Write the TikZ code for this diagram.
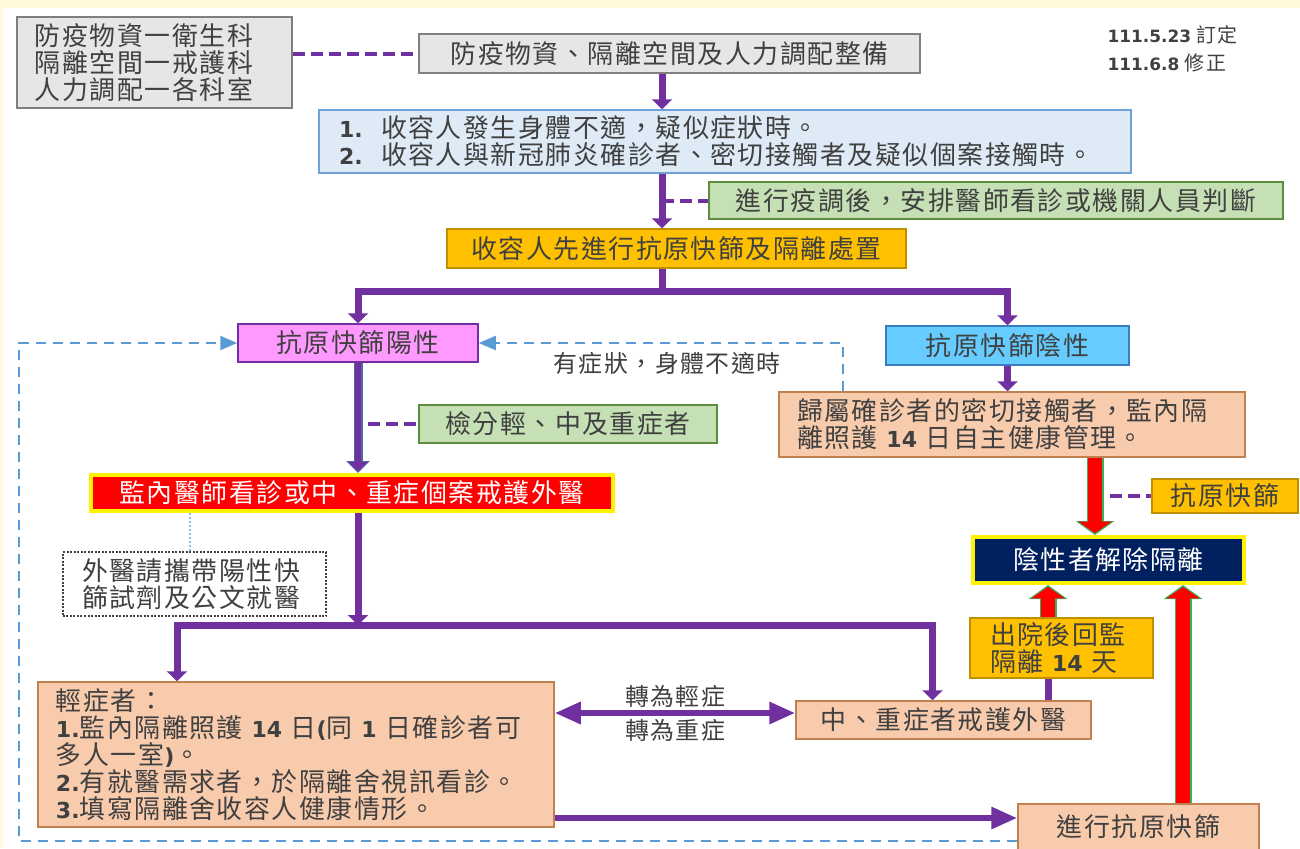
\documentclass[tikz,border=0pt]{standalone}
\usepackage{fontspec}
\setmainfont{Noto Sans CJK TC}[LetterSpace=6]
\newfontfamily\numf{DejaVu Sans}[Scale=0.85]
\usepackage{tikz}
\usetikzlibrary{arrows.meta}
\definecolor{bgyel}{HTML}{FFF9DA}
\definecolor{txtgray}{HTML}{404040}
\definecolor{boxgray}{HTML}{E7E6E6}
\definecolor{graybd}{HTML}{7F7F7F}
\definecolor{lblue}{HTML}{DEEBF7}
\definecolor{blbd}{HTML}{6FA0D8}
\definecolor{lgreen}{HTML}{C5E0B4}
\definecolor{gbd}{HTML}{5E8C3E}
\definecolor{amber}{HTML}{FFC000}
\definecolor{ambd}{HTML}{BF9000}
\definecolor{pinkf}{HTML}{FF99FF}
\definecolor{cyanf}{HTML}{66CCFF}
\definecolor{cybd}{HTML}{3A7CC0}
\definecolor{peach}{HTML}{F8CBAD}
\definecolor{pbd}{HTML}{C0804F}
\definecolor{navy}{HTML}{002060}
\definecolor{pur}{HTML}{7030A0}
\definecolor{dashblue}{HTML}{5B9BD5}
\definecolor{slateb}{HTML}{4C6AA8}
\definecolor{rggreen}{HTML}{3FAF5F}
\newcommand{\boxfont}{\fontsize{26}{27}\selectfont}
\newcommand{\smallfont}{\fontsize{24}{27}\selectfont}
\newcommand{\datefont}{\fontsize{20}{22}\selectfont}
\newcommand{\bnum}[1]{{\numf\bfseries #1}}
\tikzset{
  box/.style={draw, inner sep=0pt, line width=1.5bp, text=txtgray, font=\boxfont},
  flow/.style={draw=pur, line width=7bp, -{Triangle[length=10bp,width=20bp]}},
  flowline/.style={draw=pur, line width=7bp},
  hflow/.style={draw=pur, line width=6bp, -{Triangle[length=26bp,width=21bp]}},
  dflow/.style={draw=pur, line width=6bp, {Triangle[length=26bp,width=21bp]}-{Triangle[length=26bp,width=21bp]}},
  dashp/.style={draw=pur, line width=4bp, dash pattern=on 12bp off 6bp},
  loopline/.style={draw=dashblue, line width=2bp, dash pattern=on 10bp off 7bp, -{Triangle[length=17bp,width=14bp]}},
  bflow/.style={draw=slateb, line width=9bp, -{Triangle[length=12bp,width=23bp]},
    postaction={draw=pur, line width=6bp, -{Triangle[length=9.5bp,width=19bp]}, shorten >=1.5bp}},
  rgarrow/.style={draw=rggreen, line width=17bp, -{Triangle[length=14bp,width=38bp]},
    postaction={draw=red, line width=14bp, -{Triangle[length=11.5bp,width=33bp]}, shorten >=1.9bp}}
}
\begin{document}
\begin{tikzpicture}[x=1bp, y=-1bp]
  \useasboundingbox (0,0) rectangle (1300,848);
  \fill[bgyel] (0,0) rectangle (1300,848);
  \fill[white] (3,8) rectangle (1300,848);

  \coordinate (mx) at (662,0);
  \coordinate (sp) at (662,291);
  \coordinate (hl) at (177,625);
  \coordinate (hr) at (932.5,625);
  \coordinate (lc) at (19,841);
  \coordinate (rc) at (843,0);
  \coordinate (yd) at (0,713);
  \coordinate (ym) at (0,818);
  \coordinate (xa) at (1048,0);
  \coordinate (xb) at (1095,0);
  \coordinate (xc) at (1183,0);
  \coordinate (xd) at (1110,0);
  \coordinate (kx) at (190,0);
  \coordinate (tx) at (368,0);

  \node[box, fill=boxgray, draw=graybd, text width=239bp, inner xsep=18bp, align=left, minimum height=91bp] (staff) at (154.5,62.5) {防疫物資一衛生科\\隔離空間一戒護科\\人力調配一各科室};
  \node[box, fill=boxgray, draw=graybd, minimum width=501bp, minimum height=39bp] (prep) at (669.5,53.5) {防疫物資、隔離空間及人力調配整備};
  \node[anchor=west, font=\datefont, text=txtgray] (d1) at (1104,35) {\bnum{111.5.23} 訂定};
  \node[anchor=west, font=\datefont, text=txtgray] (d2) at (1104,63) {\bnum{111.6.8} 修正};
  \node[box, fill=lblue, draw=blbd, text width=772bp, inner xsep=20bp, align=left, minimum height=63bp] (cond) at (725,141.5) {\makebox[42bp][l]{\bnum{1.}}收容人發生身體不適，疑似症狀時。\\\makebox[42bp][l]{\bnum{2.}}收容人與新冠肺炎確診者、密切接觸者及疑似個案接觸時。};
  \node[box, fill=lgreen, draw=gbd, minimum width=574bp, minimum height=37bp] (judge) at (996,200.5) {進行疫調後，安排醫師看診或機關人員判斷};
  \node[box, fill=amber, draw=ambd, minimum width=459bp, minimum height=39bp] (screen) at (676.5,248.5) {收容人先進行抗原快篩及隔離處置};
  \node[box, fill=pinkf, draw=pur, minimum width=240bp, minimum height=38bp] (pos) at (358,343) {抗原快篩陽性};
  \node[box, fill=cyanf, draw=cybd, minimum width=243bp, minimum height=39bp] (neg) at (1007.5,345.5) {抗原快篩陰性};
  \node[font=\smallfont, text=txtgray] (sym) at (667,363) {有症狀，身體不適時};
  \node[box, fill=peach, draw=pbd, text width=430bp, inner xsep=18bp, align=left, minimum height=65bp] (close) at (1012,424.5) {歸屬確診者的密切接觸者，監內隔\\離照護 \bnum{14} 日自主健康管理。};
  \node[box, fill=lgreen, draw=gbd, minimum width=298bp, minimum height=38bp] (triage) at (568,424) {檢分輕、中及重症者};
  \node[box, fill=red, draw=yellow, line width=4bp, text=white, minimum width=522bp, minimum height=36bp] (doc) at (352,493) {監內醫師看診或中、重症個案戒護外醫};
  \node[box, fill=white, draw=darkgray, dash pattern=on 2bp off 1.5bp, text width=225bp, inner xsep=19bp, align=left, minimum height=64bp] (kit) at (194.5,584) {外醫請攜帶陽性快\\篩試劑及公文就醫};
  \node[box, fill=amber, draw=ambd, minimum width=146bp, minimum height=34bp] (rat) at (1225,496) {抗原快篩};
  \node[box, fill=navy, draw=yellow, line width=4bp, text=white, minimum width=271bp, minimum height=46bp] (rel) at (1108.5,560) {陰性者解除隔離};
  \node[box, fill=amber, draw=ambd, text width=143bp, inner xsep=20bp, align=left, minimum height=60bp] (back) at (1061.5,648) {出院後回監\\隔離 \bnum{14} 天};
  \node[box, fill=peach, draw=pbd, text width=480bp, inner xsep=18bp, align=left, minimum height=145bp] (mild) at (296,754.5) {輕症者：\\\bnum{1.}監內隔離照護 \bnum{14} 日\bnum{(}同 \bnum{1} 日確診者可\\多人一室\bnum{)}。\\\bnum{2.}有就醫需求者，於隔離舍視訊看診。\\\bnum{3.}填寫隔離舍收容人健康情形。};
  \node[box, fill=peach, draw=pbd, minimum width=295bp, minimum height=38bp] (sev) at (943.5,720) {中、重症者戒護外醫};
  \node[box, fill=peach, draw=pbd, minimum width=241bp, minimum height=46bp] (ant) at (1138.5,827) {進行抗原快篩};

  \draw[dashp] (prep.west -| staff.east) -- (prep.west);
  \draw[dashp] (judge.west -| mx) -- (judge.west);
  \draw[dashp] (tx |- triage.west) -- (triage.west);
  \draw[dashp] (xd |- rat.west) -- (rat.west);
  \draw[flow] (prep.south -| mx) -- (cond.north -| mx);
  \draw[flow] (cond.south -| mx) -- (screen.north -| mx);
  \draw[flowline] (screen.south -| mx) -- (sp);
  \draw[flow] (sp) -| (pos.north);
  \draw[flow] (sp) -| (neg.north);
  \draw[flow] (neg.south) -- (neg.south |- close.north);
  \draw[loopline] (rc |- close.north) |- (pos.east);
  \draw[loopline] (lc -| ant.west) -- (lc) |- (pos.west);
  \draw[bflow] (pos.south) -- (pos.south |- doc.north);
  \draw[draw=dashblue!70, line width=1.5bp, dash pattern=on 2bp off 2bp] (kx |- doc.south) -- (kx |- kit.north);
  \draw[flow] (pos.south |- doc.south) -- (pos.south |- hl);
  \draw[flow] (hr) -- (hl) -- (hl |- mild.north);
  \draw[flow] (hl) -- (hr) -- (hr |- sev.north);
  \draw[dflow] (mild.east |- yd) -- node[above, font=\smallfont, text=txtgray, inner sep=3bp] (up) {轉為輕症} node[below, font=\smallfont, text=txtgray, inner sep=3bp] (down) {轉為重症} (sev.west |- yd);
  \draw[hflow] (mild.east |- ym) -- (ant.west |- ym);
  \draw[flowline] (xa |- sev.north) -- (xa |- back.south);
  \draw[rgarrow] (xa |- back.north) -- (xa |- rel.south);
  \draw[rgarrow] (xb |- close.south) -- (xb |- rel.north);
  \draw[rgarrow] (xc |- ant.north) -- (xc |- rel.south);
\end{tikzpicture}
\end{document}
